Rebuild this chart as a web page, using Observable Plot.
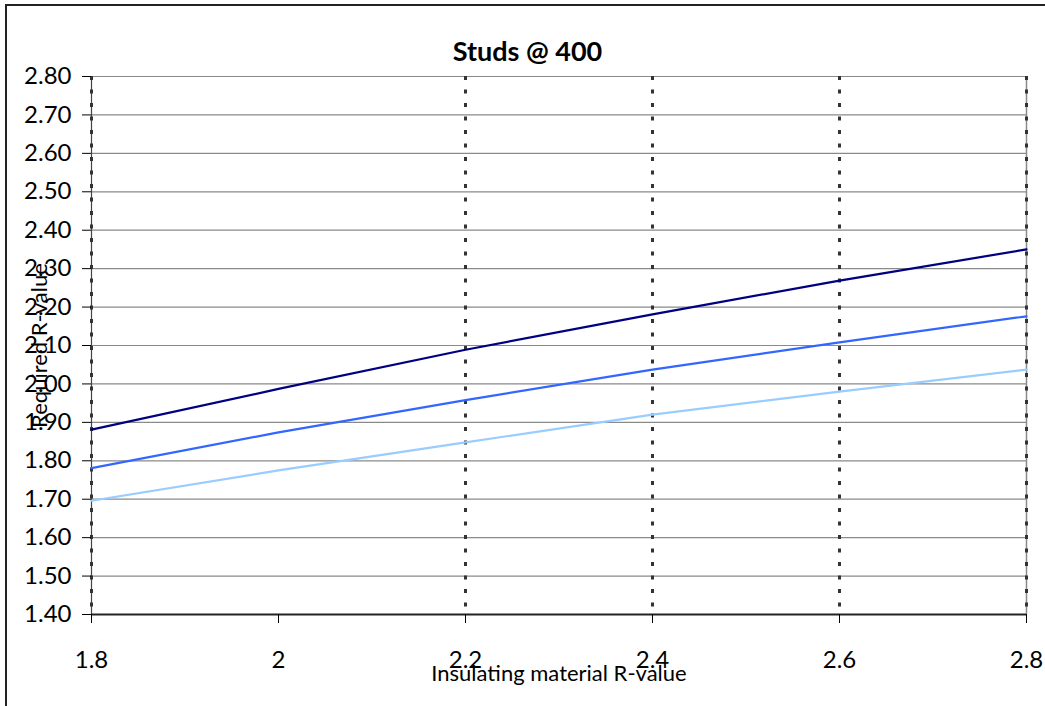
<!DOCTYPE html>
<html>
<head>
<meta charset="utf-8">
<script src="https://cdn.jsdelivr.net/npm/d3@7"></script>
<script src="https://cdn.jsdelivr.net/npm/@observablehq/plot@0.6"></script>
<style>
  html, body { margin: 0; padding: 0; background: #fff; }
  #wrap { position: relative; width: 1045px; height: 706px; overflow: hidden; font-family: Lato, sans-serif; }
  #border { position: absolute; left: 5px; top: 4px; width: 2000px; height: 2000px; border-left: 2px solid #222; border-top: 2px solid #222; }
  #title { position: absolute; left: 0; top: 35px; width: 1055px; text-align: center; font-weight: bold; font-size: 27px; line-height: 1.2; color: #000; }
  #chart { position: absolute; left: 0; top: 0; }
</style>
</head>
<body>
<div id="wrap">
  <div id="border"></div>
  <div id="chart"></div>
  <div id="title">Studs @ 400</div>
</div>
<script>
// Insulating material R-value (x)
const xValues = [1.8, 2.0, 2.2, 2.4, 2.6, 2.8];
// Series values (Required R-value)
const seriesNames = ["Series A", "Series B", "Series C"];
const seriesA = [1.881, 1.987, 2.089, 2.181, 2.269, 2.350];
const seriesB = [1.781, 1.874, 1.958, 2.037, 2.108, 2.176];
const seriesC = [1.696, 1.775, 1.848, 1.920, 1.980, 2.037];
const seriesColors = ["#000080", "#3366ff", "#99ccff"];
// Ticks
const xTicks = [1.8, 2, 2.2, 2.4, 2.6, 2.8];
const yTicks = [1.4, 1.5, 1.6, 1.7, 1.8, 1.9, 2.0, 2.1, 2.2, 2.3, 2.4, 2.5, 2.6, 2.7, 2.8];
const dottedX = [1.8, 2.2, 2.4, 2.6, 2.8];

const data = [];
[seriesA, seriesB, seriesC].forEach((vals, i) => {
  vals.forEach((v, j) => data.push({series: seriesNames[i], x: xValues[j], y: v}));
});

const chart = Plot.plot({
  width: 1045,
  height: 706,
  marginLeft: 91,
  marginRight: 19,
  marginTop: 76,
  marginBottom: 92,
  style: {fontFamily: "Lato, sans-serif", fontSize: "22px", color: "#000", background: "transparent", overflow: "visible"},
  x: {domain: [1.8, 2.8]},
  y: {domain: [1.4, 2.8]},
  color: {domain: seriesNames, range: seriesColors},
  marks: [
    Plot.ruleY(yTicks, {stroke: "#8a8a8a", strokeWidth: 1.2}),
    Plot.ruleX([2.8], {stroke: "#8a8a8a", strokeWidth: 1.5}),
    Plot.ruleX([1.8], {stroke: "#444", strokeWidth: 1.2}),
    Plot.ruleX(dottedX, {stroke: "#333", strokeWidth: 3, strokeDasharray: "4,9.5"}),
    Plot.line(data, {x: "x", y: "y", z: "series", stroke: "series", strokeWidth: 2.2}),
    Plot.ruleY([1.4], {stroke: "#222", strokeWidth: 2}),
    Plot.axisY({
      ticks: yTicks, tickFormat: d3.format(".2f"), tickSize: 9, tickPadding: 11,
      label: null, stroke: "#000", fontSize: 24
    }),
    Plot.axisY({
      ticks: [], label: "Required R-value", labelAnchor: "center", labelOffset: 60, labelArrow: "none",
      tickSize: 0, fontSize: 22
    }),
    Plot.axisX({
      ticks: xTicks, tickFormat: d => String(d), tickSize: 9, tickPadding: 27,
      label: null, stroke: "#000", fontSize: 24
    }),
    Plot.axisX({
      ticks: [], label: "Insulating material R-value", labelAnchor: "center", labelOffset: 66, labelArrow: "none",
      tickSize: 0, fontSize: 22
    })
  ]
});
document.getElementById("chart").appendChild(chart);
</script>
</body>
</html>
